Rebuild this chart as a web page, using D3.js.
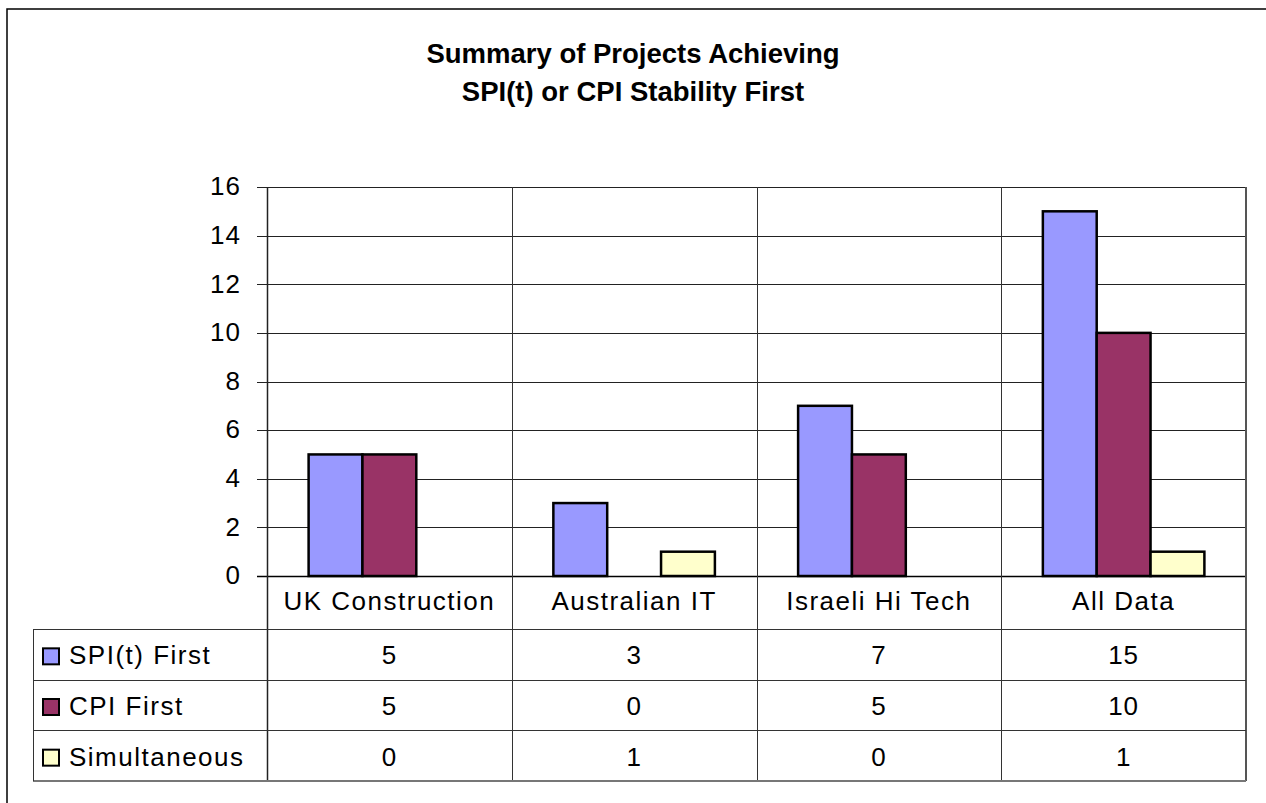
<!DOCTYPE html>
<html>
<head>
<meta charset="utf-8">
<script src="https://cdn.jsdelivr.net/npm/d3@7"></script>
<style>
  body { margin: 0; background: #fff; }
  text { font-family: "Liberation Sans", Arial, sans-serif; fill: #000; }
</style>
</head>
<body>
<svg id="chart" width="1266" height="803"></svg>
<script>
var categories = ["UK Construction", "Australian IT", "Israeli Hi Tech", "All Data"];
var seriesNames = ["SPI(t) First", "CPI First", "Simultaneous"];
var spiFirst = [5, 3, 7, 15];
var cpiFirst = [5, 0, 5, 10];
var simultaneous = [0, 1, 0, 1];
var yTicks = [0, 2, 4, 6, 8, 10, 12, 14, 16];
var titleLines = ["Summary of Projects Achieving", "SPI(t) or CPI Stability First"];

var seriesValues = [spiFirst, cpiFirst, simultaneous];
var colors = ["#9999ff", "#993366", "#ffffcc"];

var svg = d3.select("#chart");

// plot and table boxes
var plotLeft = 267, plotRight = 1246, plotTop = 187, plotBottom = 576;
var headerBottom = 629, tableBottom = 781, tableLeft = 33;

// outer frame (only top and left edges are inside the picture)
svg.append("path")
    .attr("d", "M7,803 L7,9 L1266,9")
    .attr("fill", "none")
    .attr("stroke", "#000")
    .attr("stroke-width", 1.5);

// title
svg.append("g").selectAll("text")
    .data(titleLines)
    .enter().append("text")
    .attr("x", 633)
    .attr("y", function(d, i) { return 63 + i * 38; })
    .attr("text-anchor", "middle")
    .attr("font-size", "27.5px")
    .attr("font-weight", "bold")
    .text(function(d) { return d; });

var x = d3.scaleBand().domain(categories).range([plotLeft, plotRight]);
var bw = x.bandwidth();
var x1 = d3.scaleBand().domain(seriesNames).range([bw * 0.17, bw * 0.83]);
var y = d3.scaleLinear().domain([0, 16]).range([plotBottom, plotTop]);

// horizontal gridlines
svg.append("g").selectAll("line")
    .data(yTicks)
    .enter().append("line")
    .attr("x1", plotLeft - 10)
    .attr("x2", plotRight)
    .attr("y1", function(d) { return Math.round(y(d)) + 0.5; })
    .attr("y2", function(d) { return Math.round(y(d)) + 0.5; })
    .attr("stroke", function(d) { return d == 0 ? "#000" : "#222"; })
    .attr("stroke-width", function(d) { return d == 0 ? 1.5 : 1; });

// y axis labels
var yAxis = d3.axisLeft(y).tickValues(yTicks).tickSize(0).tickPadding(26);
var yg = svg.append("g")
    .attr("transform", "translate(" + plotLeft + ",0)")
    .call(yAxis);
yg.select(".domain").remove();
yg.selectAll("text")
    .attr("font-size", "26px")
    .attr("letter-spacing", "1px")
    .attr("font-family", "Liberation Sans, Arial, sans-serif")
    .attr("dy", "0.3em");

// vertical lines: category dividers running through the table
var dividers = categories.map(function(c) { return x(c); });
svg.append("g").selectAll("line")
    .data(dividers)
    .enter().append("line")
    .attr("x1", function(d) { return Math.round(d) + 0.5; })
    .attr("x2", function(d) { return Math.round(d) + 0.5; })
    .attr("y1", plotTop)
    .attr("y2", tableBottom)
    .attr("stroke", function(d, i) { return i == 0 ? "#222" : "#333"; })
    .attr("stroke-width", function(d, i) { return i == 0 ? 1.5 : 1; });

// right edge
svg.append("line")
    .attr("x1", plotRight).attr("x2", plotRight)
    .attr("y1", plotTop).attr("y2", tableBottom)
    .attr("stroke", "#555").attr("stroke-width", 2);

// bars
var groups = svg.append("g").selectAll("g")
    .data(categories)
    .enter().append("g")
    .attr("transform", function(d) { return "translate(" + x(d) + ",0)"; });

groups.selectAll("rect")
    .data(function(d, ci) {
        return seriesNames.map(function(s, si) {
            return { series: s, index: si, value: seriesValues[si][ci] };
        }).filter(function(e) { return e.value > 0; });
    })
    .enter().append("rect")
    .attr("x", function(d) { return x1(d.series); })
    .attr("y", function(d) { return y(d.value); })
    .attr("width", x1.bandwidth())
    .attr("height", function(d) { return y(0) - y(d.value); })
    .attr("fill", function(d) { return colors[d.index]; })
    .attr("stroke", "#000")
    .attr("stroke-width", 2.5);

// category labels in header row
svg.append("g").selectAll("text")
    .data(categories)
    .enter().append("text")
    .attr("x", function(d) { return x(d) + bw / 2; })
    .attr("y", 610)
    .attr("text-anchor", "middle")
    .attr("font-size", "26px")
    .attr("letter-spacing", "1.5px")
    .text(function(d) { return d; });

// data table
var rowScale = d3.scaleBand().domain(seriesNames).range([headerBottom, tableBottom]);
var rh = rowScale.bandwidth();

// row lines
svg.append("g").selectAll("line")
    .data(seriesNames)
    .enter().append("line")
    .attr("x1", tableLeft)
    .attr("x2", plotRight)
    .attr("y1", function(d) { return Math.round(rowScale(d)) + 0.5; })
    .attr("y2", function(d) { return Math.round(rowScale(d)) + 0.5; })
    .attr("stroke", "#333")
    .attr("stroke-width", 1);

svg.append("line")
    .attr("x1", tableLeft).attr("x2", plotRight)
    .attr("y1", tableBottom).attr("y2", tableBottom)
    .attr("stroke", "#777").attr("stroke-width", 2);

svg.append("line")
    .attr("x1", tableLeft + 0.5).attr("x2", tableLeft + 0.5)
    .attr("y1", headerBottom).attr("y2", tableBottom)
    .attr("stroke", "#333").attr("stroke-width", 1);

var rows = svg.append("g").selectAll("g")
    .data(seriesNames)
    .enter().append("g")
    .attr("transform", function(d) { return "translate(0," + rowScale(d) + ")"; });

rows.append("rect")
    .attr("x", 43)
    .attr("y", rh / 2 - 6)
    .attr("width", 16)
    .attr("height", 16)
    .attr("fill", function(d, i) { return colors[i]; })
    .attr("stroke", "#000")
    .attr("stroke-width", 2);

rows.append("text")
    .attr("x", 69)
    .attr("y", rh / 2 + 10)
    .attr("font-size", "26px")
    .attr("letter-spacing", "1.5px")
    .text(function(d) { return d; });

rows.selectAll("text.val")
    .data(function(d, i) { return seriesValues[i]; })
    .enter().append("text")
    .attr("class", "val")
    .attr("x", function(d, i) { return x(categories[i]) + bw / 2; })
    .attr("y", rh / 2 + 10)
    .attr("text-anchor", "middle")
    .attr("font-size", "26px")
    .attr("letter-spacing", "1px")
    .text(function(d) { return d; });
</script>
</body>
</html>
